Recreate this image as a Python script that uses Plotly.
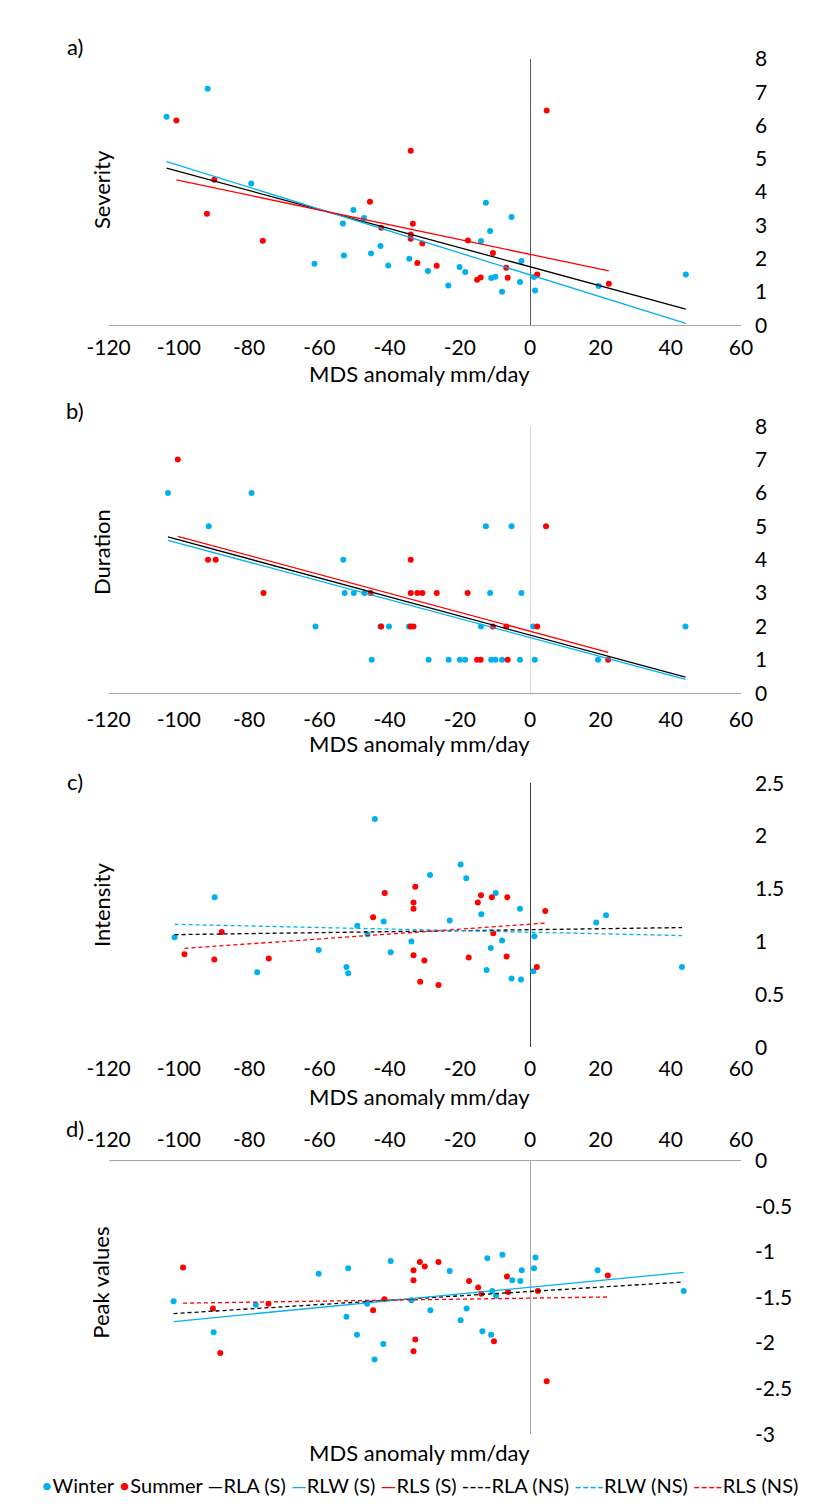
import numpy as np
import plotly.graph_objects as go

# ---------------- data ----------------
x_tickvals = [-120, -100, -80, -60, -40, -20, 0, 20, 40, 60]
x_ticktext = ["-120", "-100", "-80", "-60", "-40", "-20", "0", "20", "40", "60"]

# a) Severity
winter_a_x = [-103.5, -91.8, -79.4, -61.4, -53.3, -53.0, -50.3, -47.3, -45.3, -42.6, -40.4, -34.4, -29.1, -23.3,
              -20.1, -18.5, -14.0, -12.6, -11.4, -11.1, -9.9, -8.0, -5.3, -2.9, -2.5, 1.1, 1.4, 19.5, 44.3]
winter_a_y = [6.26, 7.10, 4.26, 1.85, 3.06, 2.10, 3.46, 3.22, 2.16, 2.38, 1.80, 2.00, 1.63, 1.20,
              1.75, 1.60, 2.53, 3.68, 2.83, 1.42, 1.46, 1.01, 3.25, 1.30, 1.93, 1.45, 1.05, 1.18, 1.53]
summer_a_x = [-100.7, -92.0, -89.9, -76.1, -45.6, -42.4, -34.0, -33.4, -34.0, -34.0, -30.7, -32.1, -26.6,
              -17.7, -15.1, -14.1, -10.6, -6.8, -6.4, 2.0, 4.7, 22.4]
summer_a_y = [6.15, 3.35, 4.37, 2.54, 3.71, 2.93, 5.24, 3.05, 2.73, 2.60, 2.46, 1.87, 1.79,
              2.55, 1.37, 1.44, 2.17, 1.73, 1.43, 1.53, 6.45, 1.25]

# b) Duration
winter_b_x = [-103.1, -91.5, -79.3, -61.1, -53.2, -52.8, -50.2, -47.2, -45.1, -42.6, -40.2, -34.5, -28.9, -23.2,
              -20.0, -18.5, -14.0, -12.6, -11.4, -11.1, -9.9, -8.0, -5.3, -2.9, -2.5, 0.9, 1.3, 19.3, 44.2]
winter_b_y = [6, 5, 6, 2, 4, 3, 3, 3, 1, 2, 2, 2, 1, 1,
              1, 1, 2, 5, 3, 1, 1, 1, 5, 1, 3, 2, 1, 1, 2]
summer_b_x = [-100.3, -91.7, -89.5, -75.9, -45.4, -42.4, -34.0, -34.0, -34.0, -33.2, -32.1, -30.7, -26.6,
              -17.8, -15.1, -14.1, -10.6, -6.8, -6.4, 2.0, 4.5, 22.2]
summer_b_y = [7, 4, 4, 3, 3, 2, 4, 3, 2, 2, 3, 3, 3,
              3, 1, 1, 2, 2, 1, 2, 5, 1]

# c) Intensity
winter_c_x = [-101.2, -89.8, -77.7, -60.2, -52.3, -51.8, -49.2, -46.3, -44.2, -41.7, -39.7, -33.8, -28.5, -22.9,
              -19.8, -18.2, -13.9, -12.4, -11.2, -9.8, -8.0, -5.3, -2.9, -2.6, 0.9, 1.2, 18.8, 21.6, 43.2]
winter_c_y = [1.04, 1.42, 0.71, 0.92, 0.76, 0.70, 1.15, 1.07, 2.16, 1.19, 0.90, 1.00, 1.63, 1.20,
              1.73, 1.60, 1.26, 0.73, 0.94, 1.46, 1.01, 0.65, 1.31, 0.64, 0.72, 1.05, 1.18, 1.25, 0.76]
summer_c_x = [-98.4, -89.9, -87.8, -74.4, -44.7, -41.4, -33.2, -33.2, -32.7, -33.2, -30.1, -31.3, -26.1,
              -17.5, -14.9, -14.0, -10.9, -10.5, -6.5, -6.7, 1.9, 4.3]
summer_c_y = [0.88, 0.83, 1.09, 0.84, 1.23, 1.46, 1.37, 1.31, 1.52, 0.87, 0.82, 0.62, 0.59,
              0.85, 1.37, 1.44, 1.42, 1.08, 1.42, 0.86, 0.76, 1.29]

# d) Peak values
winter_d_x = [-101.5, -90.1, -78.1, -60.2, -52.3, -51.8, -49.3, -46.4, -44.3, -41.8, -39.7, -33.8, -28.4, -22.9,
              -19.8, -18.1, -13.6, -12.2, -11.1, -10.8, -9.7, -7.9, -5.1, -2.8, -2.4, 1.1, 1.5, 19.2, 43.7]
winter_d_y = [-1.54, -1.88, -1.58, -1.24, -1.71, -1.18, -1.91, -1.57, -2.18, -2.01, -1.10, -1.53, -1.64, -1.21,
              -1.75, -1.62, -1.87, -1.07, -1.91, -1.43, -1.48, -1.03, -1.31, -1.32, -1.20, -1.18, -1.06, -1.20, -1.43]
summer_d_x = [-98.8, -90.3, -88.2, -74.5, -44.7, -41.5, -33.2, -33.2, -32.7, -33.2, -31.4, -30.0, -26.1,
              -17.4, -14.8, -13.9, -10.3, -6.6, -6.3, 2.2, 4.7, 22.1]
summer_d_y = [-1.17, -1.62, -2.11, -1.57, -1.64, -1.52, -1.20, -1.31, -1.96, -2.09, -1.11, -1.16, -1.11,
              -1.32, -1.39, -1.46, -1.98, -1.27, -1.44, -1.43, -2.42, -1.26]

y_ticks_a = [0, 1, 2, 3, 4, 5, 6, 7, 8]
y_ticks_b = [0, 1, 2, 3, 4, 5, 6, 7, 8]
y_ticks_c = [0, 0.5, 1, 1.5, 2, 2.5]
y_ticktext_c = ["0", "0.5", "1", "1.5", "2", "2.5"]
y_ticks_d = [0, -0.5, -1, -1.5, -2, -2.5, -3]
y_ticktext_d = ["0", "-0.5", "-1", "-1.5", "-2", "-2.5", "-3"]

y_titles = ["Severity", "Duration", "Intensity", "Peak values"]
panel_labels = ["a)", "b)", "c)", "d)"]
x_title = "MDS anomaly mm/day"
legend_names = ["Winter", "Summer", "RLA (S)", "RLW (S)", "RLS (S)", "RLA (NS)", "RLW (NS)", "RLS (NS)"]

# ---------------- style ----------------
W, H = 813, 1508
FONT = "Lato, 'Open Sans', sans-serif"
FS = 21
BLUE = "#00B0F0"
RED = "#FF0000"
BLACK = "#000000"
DASH = "4px,3px"

def fx(px):
    return px / W

def fy(py):
    return 1 - py / H

# pixel boxes of the four plot areas (top, bottom)
X_LEFT, X_RIGHT = 82, 742
boxes = [(37.5, 308.5), (411, 682.5), (774, 1042.5), (1158, 1436)]
zero_colors = ["#595959", "#d9d9d9", "#404040", "#a6a6a6"]
x_standoff = [3, 7, 7, 4]

fig = go.Figure()

def trend(xs, ys):
    xs = np.asarray(xs, float)
    ys = np.asarray(ys, float)
    k, b = np.polyfit(xs, ys, 1)
    xx = np.array([xs.min(), xs.max()])
    return xx, k * xx + b

panels = [
    (winter_a_x, winter_a_y, summer_a_x, summer_a_y, ("S", "S", "S")),
    (winter_b_x, winter_b_y, summer_b_x, summer_b_y, ("S", "S", "S")),
    (winter_c_x, winter_c_y, summer_c_x, summer_c_y, ("NS", "NS", "NS")),
    (winter_d_x, winter_d_y, summer_d_x, summer_d_y, ("NS", "S", "NS")),
]

for i, (wx, wy, sx, sy, kinds) in enumerate(panels):
    xa = "x" if i == 0 else f"x{i+1}"
    ya = "y" if i == 0 else f"y{i+1}"
    for name, xs, ys, col in (("Winter", wx, wy, BLUE), ("Summer", sx, sy, RED)):
        fig.add_trace(go.Scatter(
            x=xs, y=ys, mode="markers", name=name, legendgroup=name, showlegend=False,
            marker=dict(color=col, size=6), xaxis=xa, yaxis=ya))
    ax_all = list(wx) + list(sx)
    ay_all = list(wy) + list(sy)
    for base, xs, ys, col, kind in (("RLA", ax_all, ay_all, BLACK, kinds[0]),
                                    ("RLW", wx, wy, BLUE, kinds[1]),
                                    ("RLS", sx, sy, RED, kinds[2])):
        name = f"{base} ({kind})"
        tx, ty = trend(xs, ys)
        fig.add_trace(go.Scatter(
            x=tx, y=ty, mode="lines", name=name, legendgroup=name, showlegend=False,
            line=dict(color=col, width=1.3, dash=DASH if kind == "NS" else "solid"),
            xaxis=xa, yaxis=ya))

yranges = [[0, 8], [0, 8], [0, 2.5], [-3, 0]]
ytv = [y_ticks_a, y_ticks_b, y_ticks_c, y_ticks_d]
ytt = [[str(v) for v in y_ticks_a], [str(v) for v in y_ticks_b], y_ticktext_c, y_ticktext_d]

layout = dict(
    width=W, height=H, margin=dict(l=0, r=0, t=0, b=0),
    paper_bgcolor="white", plot_bgcolor="white",
    font=dict(family=FONT, size=FS, color="#000000"),
    showlegend=False,
)

annotations = []
for i, (top, bot) in enumerate(boxes):
    sfx = "" if i == 0 else str(i + 1)
    is_d = i == 3
    layout["xaxis" + sfx] = dict(
        domain=[fx(X_LEFT), fx(X_RIGHT)], range=[-120, 60], anchor="y" + sfx,
        tickmode="array", tickvals=x_tickvals, ticktext=x_ticktext,
        side="top" if is_d else "bottom",
        showgrid=False, ticks="", ticklabelstandoff=x_standoff[i],
        showline=(i != 2), linecolor="#a6a6a6", linewidth=1.3,
        zeroline=True, zerolinecolor=zero_colors[i], zerolinewidth=1.2,
        tickfont=dict(size=FS),
    )
    layout["yaxis" + sfx] = dict(
        domain=[fy(bot), fy(top)], range=yranges[i], anchor="x" + sfx,
        side="right", tickmode="array", tickvals=ytv[i], ticktext=ytt[i],
        showgrid=False, zeroline=False, showline=False, ticks="",
        ticklabelstandoff=13, tickfont=dict(size=FS),
    )

label_y = [25, 395, 772, 1125]
for lab, yy in zip(panel_labels, label_y):
    annotations.append(dict(text=lab, x=fx(47), y=fy(yy), xref="paper", yref="paper",
                            showarrow=False, xanchor="center", yanchor="middle",
                            font=dict(size=FS + 1)))
ytitle_y = [170, 539, 897, 1282]
for t, yy in zip(y_titles, ytitle_y):
    annotations.append(dict(text=t, x=fx(74), y=fy(yy), xref="paper", yref="paper",
                            showarrow=False, xanchor="center", yanchor="middle",
                            textangle=-90, font=dict(size=22)))
xtitle_y = [357, 734, 1093, 1455]
for yy in xtitle_y:
    annotations.append(dict(text=x_title, x=fx(407), y=fy(yy), xref="paper", yref="paper",
                            showarrow=False, xanchor="center", yanchor="middle",
                            font=dict(size=22)))

# legend row (Excel style: marker glyph followed by the series name)
legend_glyphs = ["•", "•", "—", "—", "—", "----", "----", "----"]
legend_colors = [BLUE, RED, BLACK, BLUE, RED, BLACK, BLUE, RED]
parts = []
for g, c, n in zip(legend_glyphs, legend_colors, legend_names):
    parts.append(f"<span style='color:{c}'>{g}</span>{n}")
annotations.append(dict(text=" ".join(parts), x=0.5, y=fy(1488), xref="paper", yref="paper",
                        showarrow=False, xanchor="center", yanchor="middle",
                        font=dict(size=20)))
layout["annotations"] = annotations

fig.update_layout(**layout)
fig.write_html("out.html")
